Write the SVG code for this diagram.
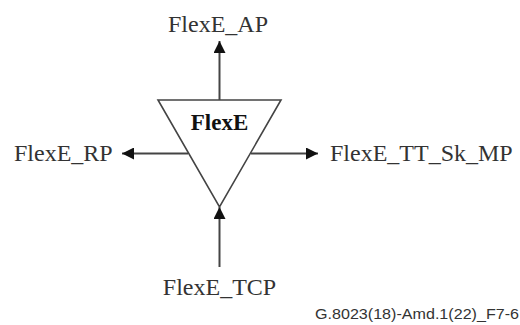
<svg xmlns="http://www.w3.org/2000/svg" width="520" height="325" viewBox="0 0 520 325">
<defs>
<style>
.lbl{font-family:"Liberation Serif","Times New Roman",serif;font-size:24px;fill:#333}
.bold{font-family:"Liberation Serif","Times New Roman",serif;font-size:23px;font-weight:bold;fill:#111}
.foot{font-family:"Liberation Sans",Arial,sans-serif;font-size:14px;fill:#333}
.conn{stroke:#444;stroke-width:2;fill:none}
</style>
<marker id="ah" viewBox="0 0 12 12" refX="12" refY="6" markerWidth="12" markerHeight="12" markerUnits="userSpaceOnUse" orient="auto">
<path d="M0,0 L12,6 L0,12 Z" fill="#111"/>
</marker>
</defs>
<rect width="520" height="325" fill="#fff"/>
<g id="connectors">
<line class="conn" x1="219.5" y1="100" x2="219.5" y2="41" marker-end="url(#ah)"/>
<line class="conn" x1="188" y1="153.5" x2="122" y2="153.5" marker-end="url(#ah)"/>
<line class="conn" x1="251" y1="153.5" x2="318" y2="153.5" marker-end="url(#ah)"/>
<line class="conn" x1="219.5" y1="267" x2="219.5" y2="207" marker-end="url(#ah)"/>
</g>
<g id="flexe">
<polygon points="158,100 281,100 219.5,207" fill="#fff" stroke="#444" stroke-width="1.6"/>
<text class="bold" x="219.5" y="130" text-anchor="middle">FlexE</text>
</g>
<g id="ap"><text class="lbl" x="218" y="32" text-anchor="middle">FlexE_AP</text></g>
<g id="rp"><text class="lbl" x="14" y="161">FlexE_RP</text></g>
<g id="mp"><text class="lbl" x="330" y="161">FlexE_TT_Sk_MP</text></g>
<g id="tcp"><text class="lbl" x="219.5" y="295" text-anchor="middle">FlexE_TCP</text></g>
<text class="foot" x="315" y="319" textLength="204" lengthAdjust="spacingAndGlyphs">G.8023(18)-Amd.1(22)_F7-6</text>
</svg>
